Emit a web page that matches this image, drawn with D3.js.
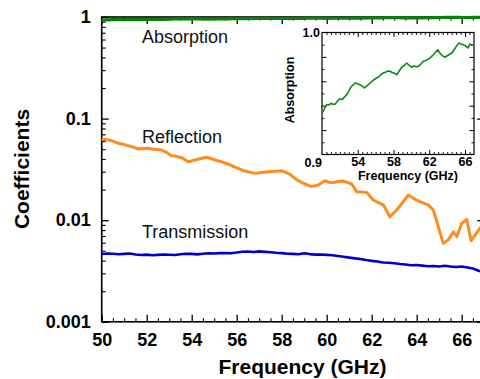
<!DOCTYPE html>
<html>
<head>
<meta charset="utf-8">
<script src="https://cdn.jsdelivr.net/npm/d3@7"></script>
<style>
  body { margin: 0; background: #fff; }
  svg { display: block; }
  text { font-family: "Liberation Sans", Arial, Helvetica, sans-serif; }
</style>
</head>
<body>
<svg id="chart" width="480" height="379"></svg>
<script>
// Measured coefficients vs frequency (GHz)
const freqR = [50.0, 50.3, 50.5, 50.74, 51.0, 51.18, 51.4, 51.63, 51.85, 52.07, 52.3, 52.67, 52.9, 53.1, 53.3,
  53.56, 53.85, 54.15, 54.4, 54.67, 55.04, 55.3, 55.63, 55.9, 56.22, 56.5, 56.81, 57.1, 57.4, 57.7, 58.0,
  58.37, 58.67, 58.96, 59.33, 59.63, 59.92, 60.1, 60.29, 60.5, 60.74, 61.11, 61.33, 61.55, 61.78, 62.07,
  62.3, 62.52, 62.81, 63.11, 63.4, 63.63, 63.85, 64.15, 64.52, 64.74, 64.96, 65.18, 65.4, 65.63, 65.78,
  66.0, 66.22, 66.42, 66.81, 67.0];
const reflection = [0.063, 0.0616, 0.060, 0.0571, 0.0555, 0.0541, 0.0525, 0.0502, 0.0508, 0.0510, 0.0500,
  0.0491, 0.0462, 0.0431, 0.0425, 0.0412, 0.0376, 0.0391, 0.0405, 0.0416, 0.0391, 0.0377, 0.0357, 0.0335,
  0.0312, 0.0300, 0.0289, 0.0295, 0.0300, 0.0304, 0.0307, 0.0282, 0.0249, 0.0231, 0.0214, 0.0222, 0.0245,
  0.0236, 0.0234, 0.0241, 0.0243, 0.0227, 0.0191, 0.0189, 0.0187, 0.0158, 0.0149, 0.0141, 0.0108, 0.0126,
  0.0152, 0.0177, 0.0164, 0.0152, 0.0141, 0.0126, 0.00863, 0.00592, 0.00638, 0.0077, 0.00688, 0.00932,
  0.0102, 0.0063, 0.00833, 0.0090];

const freqT = [50.0, 50.25, 50.5, 50.75, 51.0, 51.25, 51.5, 51.75, 52.0, 52.25, 52.5, 52.75, 53.0, 53.25,
  53.5, 53.75, 54.0, 54.25, 54.5, 54.75, 55.0, 55.25, 55.5, 55.75, 56.0, 56.25, 56.5, 56.75, 57.0, 57.25,
  57.5, 57.75, 58.0, 58.25, 58.5, 58.75, 59.0, 59.25, 59.5, 59.75, 60.0, 60.25, 60.5, 60.75, 61.0, 61.25,
  61.5, 61.75, 62.0, 62.25, 62.5, 62.75, 63.0, 63.25, 63.5, 63.75, 64.0, 64.25, 64.5, 64.75, 65.0, 65.25,
  65.5, 65.75, 66.0, 66.25, 66.5, 66.75, 67.0];
const transmission = [0.00465, 0.00470, 0.00468, 0.00462, 0.00466, 0.00470, 0.00460, 0.00455, 0.00458,
  0.00452, 0.00456, 0.00460, 0.00457, 0.00454, 0.00462, 0.00468, 0.00466, 0.00461, 0.00468, 0.00472,
  0.00470, 0.00474, 0.00476, 0.00472, 0.00480, 0.00490, 0.00492, 0.00487, 0.00493, 0.00488, 0.00484,
  0.00478, 0.00474, 0.00468, 0.00466, 0.00462, 0.00472, 0.00464, 0.00458, 0.00460, 0.00456, 0.00452,
  0.00444, 0.00436, 0.00428, 0.00421, 0.00415, 0.00405, 0.00398, 0.00392, 0.00384, 0.00381, 0.00377,
  0.00370, 0.00366, 0.00360, 0.00362, 0.00357, 0.00352, 0.00354, 0.00350, 0.00356, 0.00350, 0.00346,
  0.00350, 0.00342, 0.00334, 0.00318, 0.00308];

const freqA = [50.0, 50.25, 50.5, 50.75, 51.0, 51.25, 51.5, 51.75, 52.0, 52.25, 52.5, 52.75, 53.0, 53.25,
  53.5, 53.7, 54.0, 54.25, 54.5, 54.73, 55.0, 55.37, 55.6, 55.85, 56.12, 56.4, 56.65, 56.86, 57.1, 57.35,
  57.61, 57.9, 58.15, 58.36, 58.6, 58.92, 59.2, 59.48, 59.75, 60.04, 60.3, 60.55, 60.78, 61.05, 61.34,
  61.6, 61.85, 62.09, 62.35, 62.6, 62.94, 63.2, 63.45, 63.76, 64.0, 64.25, 64.51, 64.8, 65.05, 65.32,
  65.55, 65.8, 66.05, 66.31, 66.57, 66.8, 67.0];
const absorption = [0.934, 0.937, 0.941, 0.9405, 0.942, 0.941, 0.9415, 0.944, 0.9457, 0.945, 0.947, 0.949,
  0.952, 0.9555, 0.957, 0.9586, 0.958, 0.9572, 0.956, 0.9545, 0.956, 0.9586, 0.960, 0.9615, 0.9627, 0.964,
  0.966, 0.9668, 0.9675, 0.9685, 0.9682, 0.967, 0.9665, 0.9654, 0.968, 0.9715, 0.973, 0.975, 0.973, 0.9715,
  0.9725, 0.972, 0.9723, 0.974, 0.9764, 0.977, 0.978, 0.9791, 0.981, 0.983, 0.9859, 0.983, 0.981, 0.9797,
  0.981, 0.982, 0.9832, 0.986, 0.989, 0.9914, 0.9905, 0.990, 0.989, 0.9873, 0.9906, 0.9895, 0.9898];

const xTicks = [50, 52, 54, 56, 58, 60, 62, 64, 66];
const yTicks = [0.001, 0.01, 0.1, 1];
const yTickLabels = ["0.001", "0.01", "0.1", "1"];
const insetXTicks = [54, 58, 62, 66];
const insetYTicks = [0.92, 0.94, 0.96, 0.98];
const seriesNames = ["Absorption", "Reflection", "Transmission"];

const svg = d3.select("#chart");

// Main plot scales
const x = d3.scaleLinear().domain([50, 67]).range([101.7, 484.2]);
const y = d3.scaleLog().domain([0.001, 1]).range([321.8, 17]);
const [x0, x1] = x.range();
const [yb, yt] = y.range();

const minorX = d3.range(50, 67.001, 0.5).filter(v => Math.abs(v / 2 - Math.round(v / 2)) > 1e-6);
const minorY = [];
[0.001, 0.01, 0.1].forEach(d => { for (let k = 2; k <= 9; k++) minorY.push(k * d); });

function styleAxis(g, w) {
  g.select(".domain").remove();
  g.selectAll(".tick line").attr("stroke", "#000").attr("stroke-width", w);
}

// bottom axis
svg.append("g").attr("transform", `translate(0,${yb})`)
  .call(d3.axisBottom(x).tickValues(xTicks).tickSize(-7).tickPadding(11).tickFormat(d3.format("d")))
  .call(g => styleAxis(g, 1.3))
  .call(g => g.selectAll("text").attr("font-size", 18).attr("font-weight", "bold").attr("fill", "#000"));
svg.append("g").attr("transform", `translate(0,${yb})`)
  .call(d3.axisBottom(x).tickValues(minorX).tickSize(-3.5).tickFormat(""))
  .call(g => styleAxis(g, 1.1));
// top axis
svg.append("g").attr("transform", `translate(0,${yt})`)
  .call(d3.axisTop(x).tickValues(xTicks).tickSize(-7).tickFormat(""))
  .call(g => styleAxis(g, 1.3));
svg.append("g").attr("transform", `translate(0,${yt})`)
  .call(d3.axisTop(x).tickValues(minorX).tickSize(-3.5).tickFormat(""))
  .call(g => styleAxis(g, 1.1));
// left axis
svg.append("g").attr("transform", `translate(${x0},0)`)
  .call(d3.axisLeft(y).tickValues(yTicks).tickSize(-7).tickPadding(11)
    .tickFormat((d, i) => yTickLabels[i]))
  .call(g => styleAxis(g, 1.3))
  .call(g => g.selectAll("text").attr("font-size", 18).attr("font-weight", "bold").attr("fill", "#000"));
svg.append("g").attr("transform", `translate(${x0},0)`)
  .call(d3.axisLeft(y).tickValues(minorY).tickSize(-4).tickFormat(""))
  .call(g => styleAxis(g, 1.1));
// right axis
svg.append("g").attr("transform", `translate(${x1},0)`)
  .call(d3.axisRight(y).tickValues(yTicks).tickSize(-7).tickFormat(""))
  .call(g => styleAxis(g, 1.3));
svg.append("g").attr("transform", `translate(${x1},0)`)
  .call(d3.axisRight(y).tickValues(minorY).tickSize(-4).tickFormat(""))
  .call(g => styleAxis(g, 1.1));

// frame
svg.append("rect").attr("x", x0).attr("y", yt).attr("width", x1 - x0).attr("height", yb - yt)
  .attr("fill", "none").attr("stroke", "#000").attr("stroke-width", 1.6);

// axis titles
svg.append("text").attr("x", 302.5).attr("y", 374).attr("text-anchor", "middle")
  .attr("font-size", 21).attr("font-weight", "bold").text("Frequency (GHz)");
svg.append("text").attr("transform", "translate(29,169) rotate(-90)").attr("text-anchor", "middle")
  .attr("font-size", 21).attr("font-weight", "bold").text("Coefficients");

// curves
const toPts = (fx, fy) => fx.map((f, i) => [f, fy[i]]);
const mainLine = d3.line().x(d => x(d[0])).y(d => y(d[1]));
svg.append("path").datum(toPts(freqT, transmission)).attr("d", mainLine)
  .attr("fill", "none").attr("stroke", "#0000cc").attr("stroke-width", 2.6).attr("stroke-linejoin", "round");
svg.append("path").datum(toPts(freqR, reflection)).attr("d", mainLine)
  .attr("fill", "none").attr("stroke", "#ff8c1e").attr("stroke-width", 3).attr("stroke-linejoin", "round");
svg.append("path").datum(toPts(freqA, absorption)).attr("d", mainLine)
  .attr("fill", "none").attr("stroke", "#0a800a").attr("stroke-width", 3.2).attr("stroke-linejoin", "round");

// series labels
const labelPos = [[142, 43], [142, 143], [142, 238]];
seriesNames.forEach((name, i) => {
  svg.append("text").attr("x", labelPos[i][0]).attr("y", labelPos[i][1])
    .attr("font-size", 18).attr("fill", "#111").text(name);
});

// inset: absorption on a linear scale
const xi = d3.scaleLinear().domain([50, 67]).range([322, 474]);
const yi = d3.scaleLinear().domain([0.9, 1.0]).range([154.5, 32.5]);
const inset = svg.append("g");
inset.append("rect").attr("x", 322).attr("y", 32.5).attr("width", 152).attr("height", 122).attr("fill", "#fff");
const insetMinorX = d3.range(50.5, 67, 0.5).filter(v => !insetXTicks.includes(v));
const insetMinorY = [0.91, 0.93, 0.95, 0.97, 0.99];
inset.append("g").attr("transform", "translate(0,154.5)")
  .call(d3.axisBottom(xi).tickValues(insetXTicks).tickSize(-4.5).tickPadding(3).tickFormat(d3.format("d")))
  .call(g => styleAxis(g, 1))
  .call(g => g.selectAll("text").attr("font-size", 12.5).attr("font-weight", "bold").attr("fill", "#000"));
inset.append("g").attr("transform", "translate(0,154.5)")
  .call(d3.axisBottom(xi).tickValues(insetMinorX).tickSize(-2.5).tickFormat(""))
  .call(g => styleAxis(g, 0.9));
inset.append("g").attr("transform", "translate(0,32.5)")
  .call(d3.axisTop(xi).tickValues(insetXTicks).tickSize(-4.5).tickFormat(""))
  .call(g => styleAxis(g, 1));
inset.append("g").attr("transform", "translate(0,32.5)")
  .call(d3.axisTop(xi).tickValues(insetMinorX).tickSize(-2.5).tickFormat(""))
  .call(g => styleAxis(g, 0.9));
inset.append("g").attr("transform", "translate(322,0)")
  .call(d3.axisLeft(yi).tickValues(insetYTicks).tickSize(-4.5).tickFormat(""))
  .call(g => styleAxis(g, 1));
inset.append("g").attr("transform", "translate(322,0)")
  .call(d3.axisLeft(yi).tickValues(insetMinorY).tickSize(-2.5).tickFormat(""))
  .call(g => styleAxis(g, 0.9));
inset.append("g").attr("transform", "translate(474,0)")
  .call(d3.axisRight(yi).tickValues(insetYTicks).tickSize(-4.5).tickFormat(""))
  .call(g => styleAxis(g, 1));
inset.append("g").attr("transform", "translate(474,0)")
  .call(d3.axisRight(yi).tickValues(insetMinorY).tickSize(-2.5).tickFormat(""))
  .call(g => styleAxis(g, 0.9));
inset.append("rect").attr("x", 322).attr("y", 32.5).attr("width", 152).attr("height", 122)
  .attr("fill", "none").attr("stroke", "#000").attr("stroke-width", 1.2);
inset.append("text").attr("x", 320).attr("y", yi(1.0)).attr("dy", "0.36em").attr("text-anchor", "end")
  .attr("font-size", 12.5).attr("font-weight", "bold").text(d3.format(".1f")(1.0));
inset.append("text").attr("x", 322).attr("y", 166.5).attr("text-anchor", "end")
  .attr("font-size", 12.5).attr("font-weight", "bold").text(d3.format(".1f")(0.9));
inset.append("text").attr("x", 408).attr("y", 180).attr("text-anchor", "middle")
  .attr("font-size", 12.5).attr("font-weight", "bold").text("Frequency (GHz)");
inset.append("text").attr("transform", "translate(294,90) rotate(-90)").attr("text-anchor", "middle")
  .attr("font-size", 12.5).attr("font-weight", "bold").text("Absorption");
const insetLine = d3.line().x(d => xi(d[0])).y(d => yi(d[1]));
inset.append("path").datum(toPts(freqA, absorption)).attr("d", insetLine)
  .attr("fill", "none").attr("stroke", "#0a8a1a").attr("stroke-width", 1.6).attr("stroke-linejoin", "round");
</script>
</body>
</html>
